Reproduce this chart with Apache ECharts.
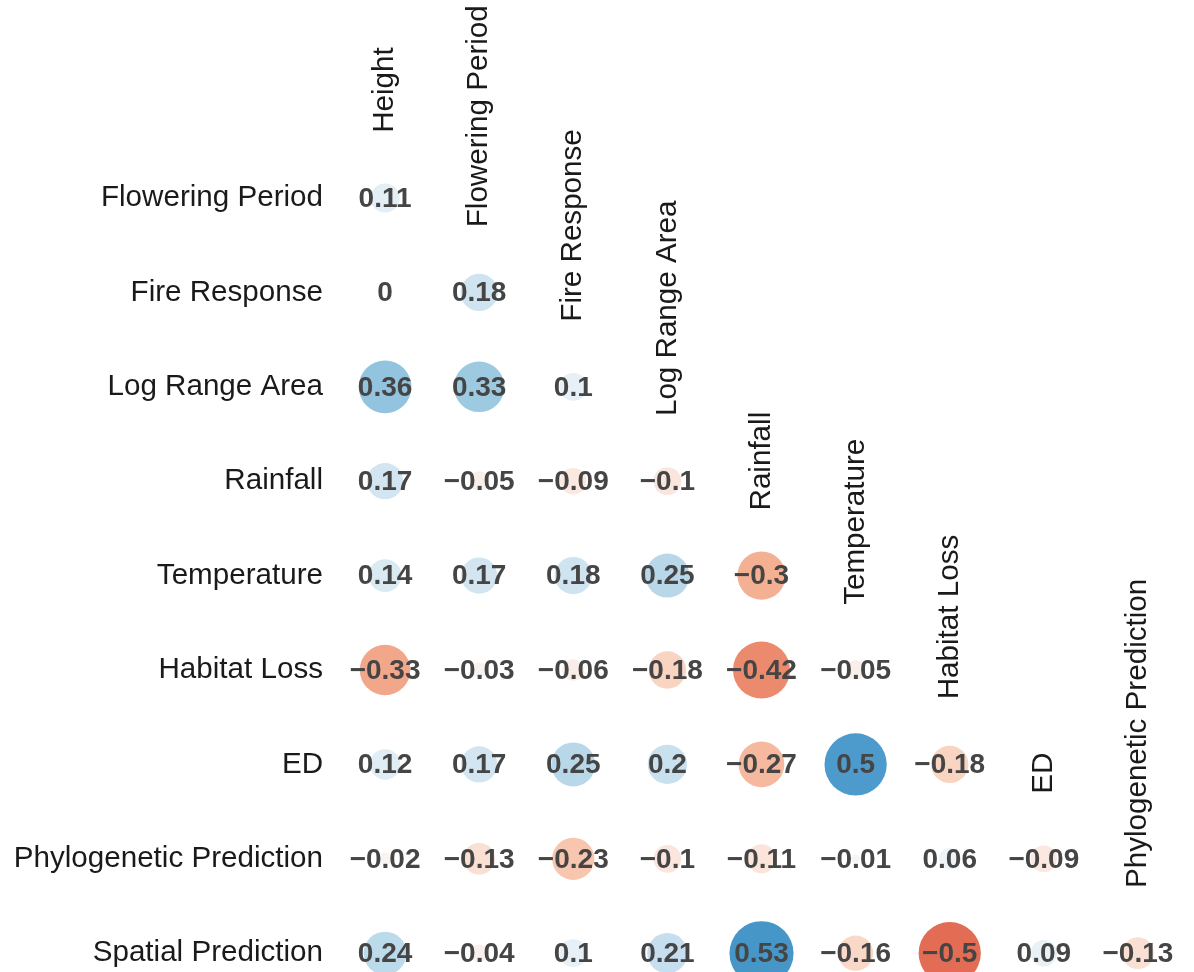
<!DOCTYPE html>
<html>
<head>
<meta charset="utf-8">
<script src="https://cdn.jsdelivr.net/npm/echarts@6/dist/echarts.min.js"></script>
<style>
  html, body { margin: 0; padding: 0; background: #fff; }
  #chart { width: 1194px; height: 972px; }
</style>
</head>
<body>
<div id="chart"></div>
<script>
// column variables (top labels) and row variables (left labels)
var colNames = ['Height', 'Flowering Period', 'Fire Response', 'Log Range Area', 'Rainfall',
  'Temperature', 'Habitat Loss', 'ED', 'Phylogenetic Prediction'];
var rowNames = ['Flowering Period', 'Fire Response', 'Log Range Area', 'Rainfall', 'Temperature',
  'Habitat Loss', 'ED', 'Phylogenetic Prediction', 'Spatial Prediction'];

// lower triangle of the correlation matrix, one array per row
var corrFlowering = [0.11];
var corrFire = [0, 0.18];
var corrRange = [0.36, 0.33, 0.1];
var corrRainfall = [0.17, -0.05, -0.09, -0.1];
var corrTemperature = [0.14, 0.17, 0.18, 0.25, -0.3];
var corrHabitat = [-0.33, -0.03, -0.06, -0.18, -0.42, -0.05];
var corrED = [0.12, 0.17, 0.25, 0.2, -0.27, 0.5, -0.18];
var corrPhylo = [-0.02, -0.13, -0.23, -0.1, -0.11, -0.01, 0.06, -0.09];
var corrSpatial = [0.24, -0.04, 0.1, 0.21, 0.53, -0.16, -0.5, 0.09, -0.13];

var rows = [corrFlowering, corrFire, corrRange, corrRainfall, corrTemperature,
  corrHabitat, corrED, corrPhylo, corrSpatial];

var cells = [];
for (var r = 0; r < rows.length; r++) {
  for (var c = 0; c < rows[r].length; c++) {
    cells.push([c, r, rows[r][c]]);
  }
}

// column titles sit on the diagonal, rotated
var colLabels = colNames.map(function (n, j) {
  return [j, j - 0.69, n];
});

var font = '"Liberation Sans", Arial, sans-serif';

var option = {
  backgroundColor: '#fff',
  animation: false,
  grid: {
    left: 338,
    width: 847,
    top: 150.8,
    height: 849.6,
    outerBoundsMode: 'none',
    containLabel: false
  },
  xAxis: {
    type: 'category',
    data: colNames,
    show: false
  },
  yAxis: [{
    type: 'category',
    data: rowNames,
    inverse: true,
    axisLine: { show: false },
    axisTick: { show: false },
    splitLine: { show: false },
    axisLabel: {
      margin: 15,
      fontSize: 29.6,
      fontFamily: font,
      color: '#1a1a1a',
      padding: [0, 0, 7, 0]
    }
  }, {
    type: 'value',
    inverse: true,
    min: -0.5,
    max: 8.5,
    show: false
  }],
  visualMap: {
    type: 'continuous',
    show: false,
    min: -0.6,
    max: 0.6,
    dimension: 2,
    seriesIndex: 0,
    inRange: {
      color: ['#d9533f', '#e36c55', '#ee9274', '#f4b093', '#f9cfba', '#fbe6dd', '#f7f7f7',
        '#e6f0f6', '#c9e0ee', '#a7d0e4', '#85bcdb', '#4d9bcc', '#3a8bc0']
    }
  },
  series: [{
    type: 'scatter',
    data: cells,
    symbol: 'circle',
    symbolSize: function (v) {
      return 88 * Math.sqrt(Math.abs(v[2]));
    },
    itemStyle: { opacity: 1 },
    label: {
      show: true,
      position: 'inside',
      offset: [0, 1],
      fontSize: 28,
      fontWeight: 'bold',
      fontFamily: font,
      color: '#454545',
      formatter: function (p) {
        return String(p.value[2]).replace('-', '\u2212');
      }
    }
  }, {
    type: 'scatter',
    yAxisIndex: 1,
    clip: false,
    data: colLabels,
    symbolSize: 0,
    silent: true,
    itemStyle: { opacity: 1 },
    label: {
      show: true,
      position: 'inside',
      rotate: 90,
      align: 'left',
      verticalAlign: 'middle',
      fontSize: 29.6,
      fontFamily: font,
      color: '#1a1a1a',
      formatter: function (p) {
        return p.value[2];
      }
    }
  }]
};

var myChart = echarts.init(document.getElementById('chart'));
myChart.setOption(option);
</script>
</body>
</html>
